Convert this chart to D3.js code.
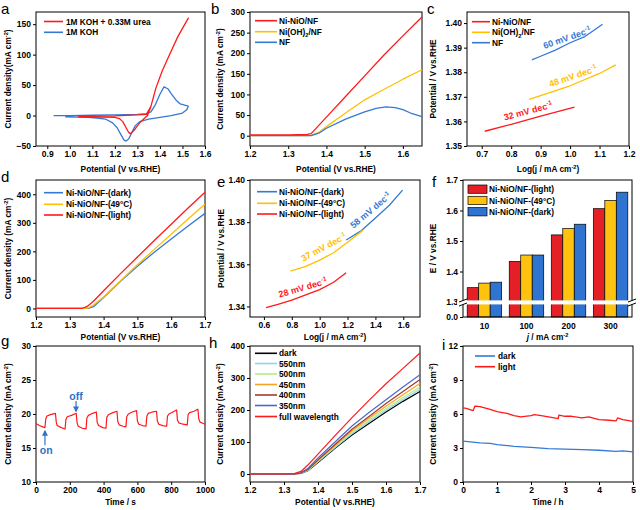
<!DOCTYPE html>
<html><head><meta charset="utf-8">
<script src="https://cdn.jsdelivr.net/npm/d3@7"></script>
<style>body{margin:0;background:#fff}svg{display:block}</style>
</head><body><svg id="c" width="640" height="510"></svg>
<script>
// ---------------- DATA ----------------
// (a) CV curves
const aUreaV = [1.035,1.10,1.20,1.30,1.34,1.36,1.382,1.41,1.445,1.48,1.526,1.48,1.445,1.41,1.382,1.36,1.345,1.33,1.31,1.29,1.275,1.268,1.26,1.25,1.235,1.22,1.20,1.15,1.10,1.04];
const aUreaJ = [-1,-1,-0.5,1,2,15,45,73,102,130,160,130,102,73,45,15,0,-5,-12,-22,-28,-30,-27,-20,-10,-5,-3,-2.5,-2.5,-2];
const aKohV = [0.928,1.0,1.1,1.2,1.3,1.34,1.36,1.38,1.40,1.418,1.435,1.45,1.47,1.49,1.51,1.526,1.52,1.50,1.45,1.40,1.35,1.31,1.29,1.275,1.262,1.25,1.24,1.225,1.21,1.19,1.16,1.12,1.08,1.03,0.98];
const aKohJ = [0,0,0.5,1,2,3,6,18,35,47,44,36,26,19,17,15.5,10,4,0,-3,-6,-10,-17,-28,-38,-42,-40,-30,-20,-12,-6,-4,-3,-2.5,-2];
// (b) LSV
const bV = [1.2,1.25,1.3,1.35,1.36,1.38,1.4,1.45,1.5,1.55,1.6,1.65];
const bNiNiO = [2,2,2,3,5,25,45,95,145,195,242,288];
const bNiOH = [0,0,0,0,1,8,22,55,87,112,137,160];
const bNFV = [1.2,1.3,1.36,1.38,1.4,1.45,1.5,1.53,1.556,1.58,1.6,1.62,1.65];
const bNF = [0,0,0,6,18,40,58,66,70,68,63,55,46];
// (c) Tafel
const cNiNiOx = [0.71,0.8,0.9,1.015];
const cNiNiOy = [1.356,1.3588,1.3622,1.3658];
const cNiOHx = [0.86,0.9,1.0,1.1,1.155];
const cNiOHy = [1.369,1.3705,1.3745,1.3795,1.383];
const cNFx = [0.87,0.9,0.95,1.0,1.05,1.08,1.11];
const cNFy = [1.385,1.3865,1.389,1.392,1.3945,1.397,1.3995];
// (d) LSV dark / 49C / light
const dV = [1.2,1.3,1.335,1.345,1.355,1.37,1.4,1.45,1.5,1.55,1.6,1.65,1.7];
const dDark = [0,0,0,0,0,6,38,95,148,197,243,289,333];
const d49 = [0,0,0,0,2,12,40,97,153,207,260,313,366];
const dLight = [0,0,0,4,10,25,62,122,180,238,295,352,407];
// (e) Tafel
const eDarkx = [1.19,1.3,1.4,1.5,1.595];
const eDarky = [1.3715,1.376,1.382,1.388,1.3952];
const e49x = [0.79,0.9,1.0,1.1,1.2,1.31];
const e49y = [1.3568,1.359,1.362,1.3655,1.3705,1.3761];
const eLightx = [0.615,0.7,0.8,0.9,1.0,1.1,1.19];
const eLighty = [1.3395,1.341,1.343,1.3455,1.348,1.3515,1.356];
// (f) bars
const fCats = ["10","100","200","300"];
const fLight = [1.347,1.433,1.520,1.606];
const f49 = [1.362,1.454,1.541,1.633];
const fDark = [1.365,1.454,1.555,1.660];
// (g) on/off chopped light
const gT = [0,20,40,53,58,65,85,115,120,125,150,172,177,185,210,238,243,250,275,296,301,310,335,357,362,370,395,414,419,428,455,479,484,492,515,532,537,546,570,595,600,608,630,651,656,665,690,713,718,726,750,773,778,787,810,832,837,845,870,895,900,909,935,958,963,971,990,1000];
const gJ = [18.6,18.3,18.1,18.0,19.3,19.7,19.9,20.1,18.8,18.3,18.0,17.8,19.2,19.6,19.8,20.1,18.7,18.2,17.9,17.8,19.4,19.8,20.1,20.3,18.8,18.3,18.0,17.9,19.5,19.9,20.2,20.4,18.9,18.4,18.2,18.1,19.6,20.0,20.3,20.5,19.0,18.5,18.3,18.2,19.7,20.1,20.3,20.4,19.0,18.5,18.3,18.2,19.7,20.0,20.3,20.6,19.1,18.7,18.5,18.4,19.9,20.2,20.4,20.7,19.3,18.8,18.6,18.5];
// (h) wavelength LSV
const hNames = ["dark","550nm","500nm","450nm","400nm","350nm","full wavelength"];
const hV = [1.2,1.3,1.33,1.35,1.37,1.4,1.45,1.5,1.55,1.6,1.65,1.7];
const hDark = [0,0,0,2,10,36,80,122,158,194,227,258];
const h550 = [0,0,0,2,11,38,83,126,163,199,233,265];
const h500 = [0,0,0,3,12,40,86,130,168,205,239,272];
const h450 = [0,0,0,3,13,42,89,135,174,212,248,283];
const h400 = [0,0,0,3,14,44,92,140,180,220,258,295];
const h350 = [0,0,0,4,17,50,100,150,192,232,272,310];
const hFull = [0,0,1,8,28,62,120,176,230,282,330,378];
// (i) stability
const iDarkT = [0,0.5,0.8,1,1.5,2,2.5,3,3.5,4,4.5,4.7,5];
const iDarkJ = [3.6,3.45,3.4,3.3,3.15,3.05,2.95,2.9,2.85,2.8,2.7,2.75,2.65];
const iLightT = [0,0.1,0.25,0.3,0.35,0.5,0.8,1.0,1.2,1.3,1.5,1.7,2.0,2.1,2.3,2.6,2.8,2.82,3.0,3.2,3.5,3.7,4.0,4.3,4.5,4.55,4.7,5.0];
const iLightJ = [6.55,6.5,6.35,6.3,6.7,6.65,6.4,6.2,6.1,6.05,5.85,5.75,5.85,5.95,5.85,5.7,5.6,5.9,5.8,5.8,5.65,5.75,5.5,5.45,5.4,5.65,5.5,5.35];

// ---------------- DRAW ----------------
const FONT = '"Liberation Sans", Arial, sans-serif';
const RED = "#ff1a1a", BLUE = "#3579d6", YEL = "#ffc000";
const svg = d3.select("#c").attr("font-family", FONT);

function rich(t, str, fs){
  const parts = str.split(/(\^\{[^}]*\}|_\{[^}]*\}|\*[^*]*\*)/).filter(s=>s);
  let off = 0;
  parts.forEach(s=>{
    let dy = 0, txt = s, size = null, ital = false;
    if (s[0]==='^'){ txt = s.slice(2,-1); size = fs*0.68; dy = -fs*0.4; }
    else if (s[0]==='_'){ txt = s.slice(2,-1); size = fs*0.68; dy = fs*0.28; }
    else if (s[0]==='*'){ txt = s.slice(1,-1); ital = true; }
    const ts = t.append("tspan").text(txt).attr("dy", dy-off);
    off = dy;
    if (size) ts.attr("font-size", size);
    if (ital) ts.attr("font-style","italic");
  });
}
function txt(g, x, y, str, o={}){
  const fs = o.fs || 8.3;
  const t = g.append("text").attr("x",x).attr("y",y).attr("font-size",fs)
    .attr("font-weight", o.w || "bold").attr("fill", o.c || "#000")
    .attr("text-anchor", o.a || "start");
  if (o.rot!==undefined) t.attr("transform",`rotate(${o.rot},${x},${y})`);
  rich(t, str, fs);
  return t;
}
function styleAxis(a){
  a.select(".domain").remove();
  a.selectAll("line").attr("stroke","#000");
  a.selectAll("text").attr("font-size",8.5).attr("font-weight","bold").attr("fill","#000").attr("font-family",FONT);
}
function panel(p){
  const g = svg.append("g");
  const [x0,x1] = p.x.range(), [yb,yt] = p.y.range();
  if (p.xt){
    const ax = g.append("g").attr("transform",`translate(0,${yb})`)
      .call(d3.axisBottom(p.x).tickValues(p.xt).tickFormat(p.xf).tickSize(3).tickPadding(2).tickSizeOuter(0));
    styleAxis(ax);
  }
  if (p.yt){
    const ay = g.append("g").attr("transform",`translate(${x0},0)`)
      .call(d3.axisLeft(p.y).tickValues(p.yt).tickFormat(p.yf).tickSize(3).tickPadding(2).tickSizeOuter(0));
    styleAxis(ay);
  }
  g.append("rect").attr("x",x0).attr("y",yt).attr("width",x1-x0).attr("height",yb-yt)
    .attr("fill","none").attr("stroke","#000").attr("stroke-width",1);
  txt(g, (x0+x1)/2, p.xtY, p.xtitle, {a:"middle"});
  const yg = g.append("g").attr("transform",`translate(${p.ytX},${(yb+yt)/2}) rotate(-90)`);
  txt(yg, 0, 3, p.ytitle, {a:"middle"});
  txt(svg, p.lx, p.ly, p.letter, {fs:15, w:"normal"});
  p.g = g;
  return p;
}
function curve(p, X, Y, color, w){
  p.g.append("path").datum(d3.zip(X,Y))
    .attr("d", d3.line().x(d=>p.x(d[0])).y(d=>p.y(d[1])))
    .attr("fill","none").attr("stroke",color).attr("stroke-width",w||1.3).attr("stroke-linejoin","round");
}
function legend(g, items, x1, x2, ys, tx){
  items.forEach((it,i)=>{
    g.append("line").attr("x1",x1).attr("x2",x2).attr("y1",ys[i]).attr("y2",ys[i])
      .attr("stroke",it[1]).attr("stroke-width",1.6);
    txt(g, tx, ys[i]+3, it[0]);
  });
}

// ----- a -----
const pa = panel({x:d3.scaleLinear([0.85,1.6],[36,205]), y:d3.scaleLinear([-50,170],[146,12]),
  xt:d3.range(0.9,1.61,0.1), xf:d3.format(".1f"), yt:[-50,0,50,100,150], yf:d3.format("d"),
  xtitle:"Potential (V vs.RHE)", xtY:172, ytitle:"Current density(mA cm^{-2})", ytX:8, letter:"a", lx:1, ly:14});
curve(pa, aKohV, aKohJ, BLUE);
curve(pa, aUreaV, aUreaJ, RED);
legend(pa.g, [["1M KOH + 0.33M urea",RED],["1M KOH",BLUE]], 44, 63, [21.5,32.3], 66);

// ----- b -----
const pb = panel({x:d3.scaleLinear([1.2,1.65],[250,422]), y:d3.scaleLinear([-25,300],[146,12]),
  xt:[1.2,1.3,1.4,1.5,1.6], xf:d3.format(".1f"), yt:d3.range(0,301,50), yf:d3.format("d"),
  xtitle:"Potential (V vs.RHE)", xtY:172, ytitle:"Current density (mA cm^{-2})", ytX:220, letter:"b", lx:211, ly:14});
curve(pb, bV, bNiOH, YEL);
curve(pb, bNFV, bNF, BLUE);
curve(pb, bV, bNiNiO, RED);
legend(pb.g, [["Ni-NiO/NF",RED],["Ni(OH)_{2}/NF",YEL],["NF",BLUE]], 255, 277, [20.7,31.7,42.3], 279);

// ----- c -----
const pc = panel({x:d3.scaleLinear([0.65,1.2],[467,629]), y:d3.scaleLinear([1.35,1.4045],[146,12]),
  xt:[0.7,0.8,0.9,1.0,1.1,1.2], xf:d3.format(".1f"), yt:[1.35,1.36,1.37,1.38,1.39,1.40], yf:d3.format(".2f"),
  xtitle:"Log(j / mA cm^{-2})", xtY:172, ytitle:"Potential / V vs.RHE", ytX:433, letter:"c", lx:427, ly:14});
curve(pc, cNiNiOx, cNiNiOy, RED);
curve(pc, cNiOHx, cNiOHy, YEL);
curve(pc, cNFx, cNFy, BLUE);
legend(pc.g, [["Ni-NiO/NF",RED],["Ni(OH)_{2}/NF",YEL],["NF",BLUE]], 472, 490, [21.7,32.3,42.7], 492);
txt(pc.g, pc.x(0.993), pc.y(1.3928), "60 mV dec^{-1}", {c:BLUE, a:"middle", rot:-19, fs:9});
txt(pc.g, pc.x(1.013), pc.y(1.3772), "48 mV dec^{-1}", {c:YEL, a:"middle", rot:-19, fs:9});
txt(pc.g, pc.x(0.86), pc.y(1.3630), "32 mV dec^{-1}", {c:RED, a:"middle", rot:-15, fs:9});

// ----- d -----
const pd = panel({x:d3.scaleLinear([1.2,1.7],[36,205]), y:d3.scaleLinear([-30,450],[317,180]),
  xt:[1.2,1.3,1.4,1.5,1.6,1.7], xf:d3.format(".1f"), yt:[0,100,200,300,400], yf:d3.format("d"),
  xtitle:"Potential (V vs.RHE)", xtY:340, ytitle:"Current density (mA cm^{-2})", ytX:8, letter:"d", lx:1, ly:182});
curve(pd, dV, dDark, BLUE);
curve(pd, dV, d49, YEL);
curve(pd, dV, dLight, RED);
legend(pd.g, [["Ni-NiO/NF-(dark)",BLUE],["Ni-NiO/NF-(49°C)",YEL],["Ni-NiO/NF-(light)",RED]], 44, 63, [192.7,204.3,215], 66);

// ----- e -----
const pe = panel({x:d3.scaleLinear([0.5,1.72],[250,420]), y:d3.scaleLinear([1.335,1.40],[317,180]),
  xt:[0.6,0.8,1.0,1.2,1.4,1.6], xf:d3.format(".1f"), yt:[1.34,1.36,1.38,1.40], yf:d3.format(".2f"),
  xtitle:"Log(j / mA cm^{-2})", xtY:340, ytitle:"Potential / V vs.RHE", ytX:221, letter:"e", lx:217, ly:187});
curve(pe, eDarkx, eDarky, BLUE);
curve(pe, e49x, e49y, YEL);
curve(pe, eLightx, eLighty, RED);
legend(pe.g, [["Ni-NiO/NF-(dark)",BLUE],["Ni-NiO/NF-(49°C)",YEL],["Ni-NiO/NF-(light)",RED]], 257, 277, [191.7,203.3,214], 279);
txt(pe.g, pe.x(1.38), pe.y(1.3845), "58 mV dec^{-1}", {c:BLUE, a:"middle", rot:-40, fs:9});
txt(pe.g, pe.x(1.04), pe.y(1.3668), "37 mV dec^{-1}", {c:YEL, a:"middle", rot:-28, fs:9});
txt(pe.g, pe.x(0.885), pe.y(1.3475), "28 mV dec^{-1}", {c:RED, a:"middle", rot:-16, fs:9});

// ----- f -----
{
  const xF = d3.scaleBand(fCats,[463,632]).paddingInner(0.18).paddingOuter(0.1);
  const keys = ["light","49","dark"];
  const xS = d3.scaleBand(keys,[0,xF.bandwidth()]);
  const yF = d3.scaleLinear([1.3,1.7],[302,180]);
  const yF0 = d3.scaleLinear([0,0.1],[317,312]);
  const g = svg.append("g");
  const series = [[fLight,"#e41f26"],[f49,"#ffc20e"],[fDark,"#2f74d0"]];
  series.forEach((s,k)=>{
    g.selectAll(null).data(fCats).enter().append("rect")
      .attr("x",c=>xF(c)+xS(keys[k])).attr("width",xS.bandwidth())
      .attr("y",(c,i)=>yF(s[0][i])).attr("height",(c,i)=>yF0(0)-yF(s[0][i]))
      .attr("fill",s[1]).attr("stroke","#000").attr("stroke-width",0.7);
  });
  const ax = g.append("g").attr("transform",`translate(0,${yF0(0)})`).call(d3.axisBottom(xF).tickSize(0).tickPadding(6));
  styleAxis(ax);
  const ay = g.append("g").attr("transform",`translate(463,0)`).call(d3.axisLeft(yF).tickValues([1.3,1.4,1.5,1.6,1.7]).tickFormat(d3.format(".1f")).tickSize(3).tickPadding(2).tickSizeOuter(0));
  styleAxis(ay);
  const ay0 = g.append("g").attr("transform",`translate(463,0)`).call(d3.axisLeft(yF0).tickValues([0]).tickFormat(d3.format(".1f")).tickSize(3).tickPadding(2).tickSizeOuter(0));
  styleAxis(ay0);
  g.append("rect").attr("x",463).attr("y",180).attr("width",169).attr("height",137).attr("fill","none").attr("stroke","#000");
  // axis break
  const yb = yF(1.3);
  g.append("rect").attr("x",457).attr("y",yb-1.6).attr("width",181).attr("height",4).attr("fill","#fff");
  [463,632].forEach(xx=>{
    g.append("line").attr("x1",xx-4).attr("x2",xx+4).attr("y1",yb).attr("y2",yb-3).attr("stroke","#000");
    g.append("line").attr("x1",xx-4).attr("x2",xx+4).attr("y1",yb+4).attr("y2",yb+1).attr("stroke","#000");
  });
  // legend
  const names = ["Ni-NiO/NF-(light)","Ni-NiO/NF-(49°C)","Ni-NiO/NF-(dark)"];
  const ly = [185,196.3,207.6];
  series.forEach((s,k)=>{
    g.append("rect").attr("x",468).attr("y",ly[k]).attr("width",19).attr("height",8.3).attr("fill",s[1]).attr("stroke","#000").attr("stroke-width",0.7);
    txt(g, 489, ly[k]+7.3, names[k]);
  });
  txt(g, 547.5, 340, "*j* / mA cm^{-2}", {a:"middle"});
  const yg = g.append("g").attr("transform",`translate(433,248.5) rotate(-90)`);
  txt(yg, 0, 3, "E / V vs.RHE", {a:"middle"});
  txt(svg, 432, 187, "f", {fs:15, w:"normal"});
}

// ----- g -----
const pg = panel({x:d3.scaleLinear([0,1000],[36,205]), y:d3.scaleLinear([10,30],[482,346]),
  xt:[0,200,400,600,800,1000], xf:d3.format("d"), yt:[10,15,20,25,30], yf:d3.format("d"),
  xtitle:"Time / s", xtY:505, ytitle:"Current density (mA cm^{-2})", ytX:8, letter:"g", lx:1, ly:346});
curve(pg, gT, gJ, RED, 1.2);
{
  const AC = "#2f72c6";
  svg.append("defs").append("marker").attr("id","ah").attr("viewBox","0 0 10 10").attr("refX",8).attr("refY",5)
    .attr("markerWidth",5).attr("markerHeight",5).attr("orient","auto-start-reverse")
    .append("path").attr("d","M0,0L10,5L0,10z").attr("fill",AC);
  pg.g.append("line").attr("x1",pg.x(53)).attr("x2",pg.x(53)).attr("y1",pg.y(15.4)).attr("y2",pg.y(17.5))
    .attr("stroke",AC).attr("stroke-width",1.2).attr("marker-end","url(#ah)");
  pg.g.append("line").attr("x1",pg.x(237)).attr("x2",pg.x(237)).attr("y1",pg.y(21.9)).attr("y2",pg.y(20.4))
    .attr("stroke",AC).attr("stroke-width",1.2).attr("marker-end","url(#ah)");
  txt(pg.g, pg.x(60), pg.y(14.1), "on", {c:AC, a:"middle", fs:10.5});
  txt(pg.g, pg.x(237), pg.y(22.0), "off", {c:AC, a:"middle", fs:10.5});
}

// ----- h -----
const hCols = ["#000000","#8fd6e8","#b9e98a","#f5a623","#a33a2c","#4a68cc","#ff1a1a"];
const hData = [hDark,h550,h500,h450,h400,h350,hFull];
const ph = panel({x:d3.scaleLinear([1.2,1.7],[250,420]), y:d3.scaleLinear([-25,400],[482,346]),
  xt:[1.2,1.3,1.4,1.5,1.6,1.7], xf:d3.format(".1f"), yt:[0,100,200,300,400], yf:d3.format("d"),
  xtitle:"Potential (V vs.RHE)", xtY:505, ytitle:"Current density (mA cm^{-2})", ytX:220, letter:"h", lx:209, ly:348});
hData.forEach((d,i)=>curve(ph, hV, d, hCols[i], 1.2));
legend(ph.g, hNames.map((n,i)=>[n,hCols[i]]), 255, 277, [353.3,363.5,374,384.5,395,405.5,416.5], 279);

// ----- i -----
const pi = panel({x:d3.scaleLinear([0,5],[463,633]), y:d3.scaleLinear([0,12],[482,346]),
  xt:[0,1,2,3,4,5], xf:d3.format("d"), yt:[0,3,6,9,12], yf:d3.format("d"),
  xtitle:"Time / h", xtY:505, ytitle:"Current density (mA cm^{-2})", ytX:433, letter:"i", lx:442, ly:350});
curve(pi, iDarkT, iDarkJ, BLUE);
curve(pi, iLightT, iLightJ, RED);
legend(pi.g, [["dark",BLUE],["light",RED]], 475, 495, [356,366.7], 498);
</script>
</body></html>
